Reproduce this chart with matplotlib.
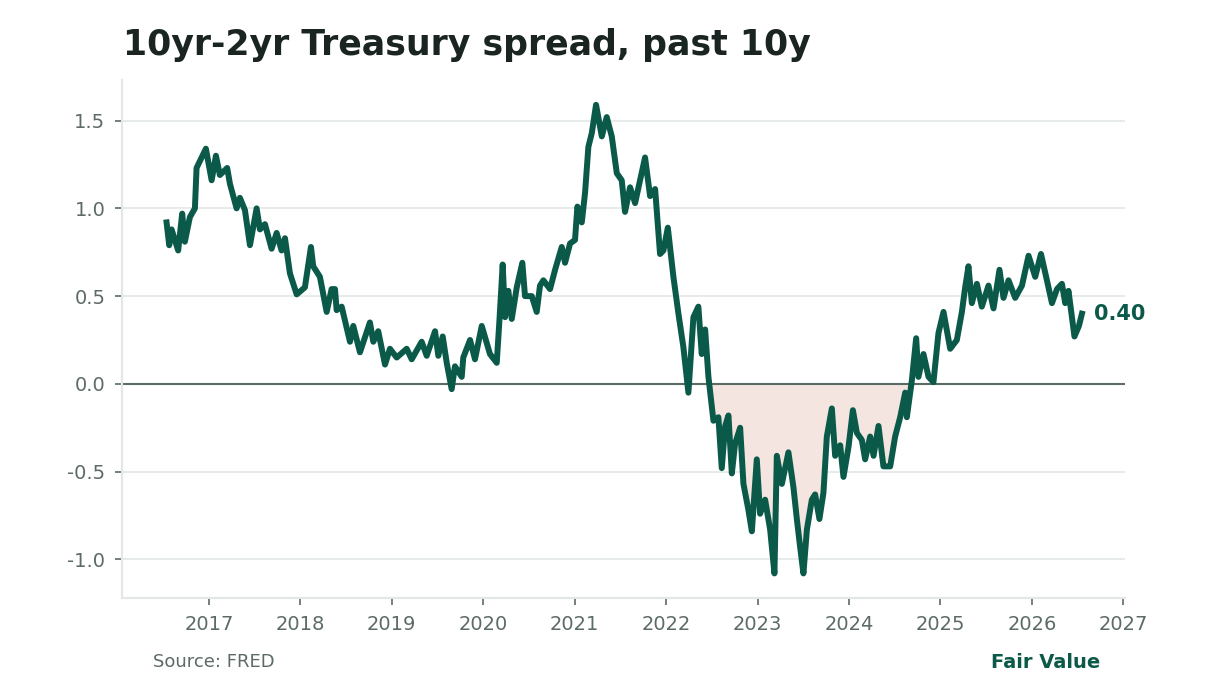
import matplotlib
matplotlib.use("Agg")
import matplotlib.pyplot as plt
import numpy as np

# spread readings (decimal year, percentage points)
years = [
    2016.537, 2016.566, 2016.592, 2016.664, 2016.708, 2016.737, 2016.792, 2016.847,
    2016.865, 2016.902, 2016.967, 2017.030, 2017.077, 2017.120, 2017.200, 2017.230,
    2017.303, 2017.339, 2017.394, 2017.449, 2017.522, 2017.558, 2017.613, 2017.686,
    2017.741, 2017.795, 2017.832, 2017.886, 2017.960, 2018.050, 2018.116, 2018.141,
    2018.214, 2018.288, 2018.342, 2018.379, 2018.397, 2018.452, 2018.543, 2018.579,
    2018.652, 2018.761, 2018.798, 2018.852, 2018.926, 2018.980, 2019.054, 2019.163,
    2019.218, 2019.327, 2019.382, 2019.473, 2019.509, 2019.557, 2019.601, 2019.655,
    2019.691, 2019.765, 2019.782, 2019.856, 2019.910, 2019.984, 2020.074, 2020.148,
    2020.176, 2020.213, 2020.239, 2020.275, 2020.312, 2020.367, 2020.428, 2020.457,
    2020.531, 2020.585, 2020.621, 2020.658, 2020.731, 2020.786, 2020.859, 2020.895,
    2020.950, 2021.004, 2021.030, 2021.078, 2021.114, 2021.150, 2021.188, 2021.234,
    2021.297, 2021.351, 2021.406, 2021.461, 2021.515, 2021.551, 2021.606, 2021.661,
    2021.716, 2021.770, 2021.825, 2021.880, 2021.934, 2021.971, 2022.019, 2022.080,
    2022.135, 2022.189, 2022.244, 2022.299, 2022.353, 2022.390, 2022.427, 2022.463,
    2022.518, 2022.572, 2022.609, 2022.646, 2022.682, 2022.719, 2022.755, 2022.810,
    2022.846, 2022.901, 2022.938, 2022.992, 2023.028, 2023.083, 2023.138, 2023.185,
    2023.211, 2023.266, 2023.338, 2023.393, 2023.430, 2023.466, 2023.502, 2023.540,
    2023.594, 2023.630, 2023.677, 2023.721, 2023.758, 2023.813, 2023.849, 2023.904,
    2023.940, 2023.995, 2024.043, 2024.087, 2024.141, 2024.177, 2024.232, 2024.269,
    2024.323, 2024.377, 2024.451, 2024.505, 2024.560, 2024.615, 2024.633, 2024.688,
    2024.735, 2024.760, 2024.815, 2024.870, 2024.924, 2024.979, 2025.034, 2025.107,
    2025.180, 2025.235, 2025.271, 2025.307, 2025.344, 2025.399, 2025.453, 2025.526,
    2025.581, 2025.646, 2025.690, 2025.745, 2025.818, 2025.892, 2025.964, 2026.037,
    2026.100, 2026.165, 2026.220, 2026.275, 2026.329, 2026.365, 2026.401, 2026.438,
    2026.466, 2026.515, 2026.548,
]
spread = [
    0.92, 0.79, 0.88, 0.76, 0.97, 0.81, 0.95, 1.00,
    1.23, 1.27, 1.34, 1.16, 1.30, 1.19, 1.23, 1.14,
    1.00, 1.06, 0.99, 0.79, 1.00, 0.88, 0.91, 0.77,
    0.86, 0.76, 0.83, 0.63, 0.51, 0.55, 0.78, 0.67,
    0.61, 0.41, 0.54, 0.54, 0.42, 0.44, 0.24, 0.33,
    0.18, 0.35, 0.24, 0.30, 0.11, 0.20, 0.15, 0.20,
    0.14, 0.24, 0.16, 0.30, 0.16, 0.27, 0.12, -0.03,
    0.10, 0.04, 0.15, 0.25, 0.14, 0.33, 0.17, 0.12,
    0.35, 0.68, 0.38, 0.53, 0.37, 0.55, 0.69, 0.50,
    0.50, 0.41, 0.56, 0.59, 0.54, 0.65, 0.78, 0.69,
    0.80, 0.82, 1.01, 0.92, 1.09, 1.35, 1.43, 1.59,
    1.41, 1.52, 1.41, 1.20, 1.16, 0.98, 1.12, 1.03,
    1.16, 1.29, 1.07, 1.11, 0.74, 0.76, 0.89, 0.61,
    0.40, 0.21, -0.05, 0.38, 0.44, 0.17, 0.31, 0.04,
    -0.21, -0.19, -0.48, -0.24, -0.18, -0.51, -0.34, -0.25,
    -0.57, -0.72, -0.84, -0.43, -0.74, -0.66, -0.83, -1.08,
    -0.41, -0.57, -0.39, -0.59, -0.77, -0.93, -1.08, -0.83,
    -0.66, -0.63, -0.77, -0.62, -0.30, -0.14, -0.41, -0.35,
    -0.53, -0.36, -0.15, -0.28, -0.32, -0.43, -0.30, -0.41,
    -0.24, -0.47, -0.47, -0.30, -0.19, -0.05, -0.19, 0.02,
    0.26, 0.04, 0.17, 0.04, 0.01, 0.29, 0.41, 0.20,
    0.25, 0.41, 0.55, 0.67, 0.46, 0.57, 0.44, 0.56,
    0.43, 0.65, 0.49, 0.59, 0.49, 0.56, 0.73, 0.61,
    0.74, 0.59, 0.46, 0.54, 0.57, 0.46, 0.53, 0.38,
    0.27, 0.33, 0.40,
]
year_ticks = list(range(2017, 2028))
y_ticks = [-1.0, -0.5, 0.0, 0.5, 1.0, 1.5]

green = "#0b5a49"
grey = "#5c6b66"
light = "#e3e7e5"

plt.rcParams["axes.unicode_minus"] = False
plt.rcParams["font.family"] = "DejaVu Sans"

x = np.array(years)
y = np.array(spread)

fig = plt.figure(figsize=(12.24, 6.8), dpi=100)
ax = fig.add_axes([0.0997, 0.1206, 0.8195, 0.7614])

ax.fill_between(x, y, 0, where=y < 0, interpolate=True, color="#f5e5e1", lw=0, zorder=1)
ax.axhline(0, color="#5a6b64", lw=1.5, zorder=2)
ax.plot(x, y, color=green, lw=4.3, solid_joinstyle="round", zorder=3)

ax.annotate(f"{spread[-1]:.2f}", xy=(years[-1], spread[-1]), xytext=(9, 0),
            textcoords="offset points", va="center", ha="left",
            fontsize=15, fontweight="bold", color=green)

ax.set_xlim(2016.05, 2027.02)
ax.set_ylim(-1.22, 1.73)
ax.set_xticks(year_ticks)
ax.set_xticklabels([str(t) for t in year_ticks])
ax.set_yticks(y_ticks)
ax.set_yticklabels([f"{t:.1f}" for t in y_ticks])

ax.grid(axis="y", color=light, lw=1.2, zorder=0)
ax.set_axisbelow(True)
for s in ["top", "right"]:
    ax.spines[s].set_visible(False)
for s in ["left", "bottom"]:
    ax.spines[s].set_color(light)
    ax.spines[s].set_linewidth(1.5)
ax.tick_params(axis="both", colors=grey, labelsize=14, length=5, width=1.2, pad=7)

fig.text(0.1005, 0.919, "10yr-2yr Treasury spread, past 10y", fontsize=25,
         fontweight="bold", color="#1a2420", va="baseline", ha="left")
fig.text(0.125, 0.0196, "Source: FRED", fontsize=13, color=grey, va="baseline", ha="left")
fig.text(0.8987, 0.0176, "Fair Value", fontsize=14, fontweight="bold", color=green,
         va="baseline", ha="right")

fig.savefig("out.png", dpi=100)
